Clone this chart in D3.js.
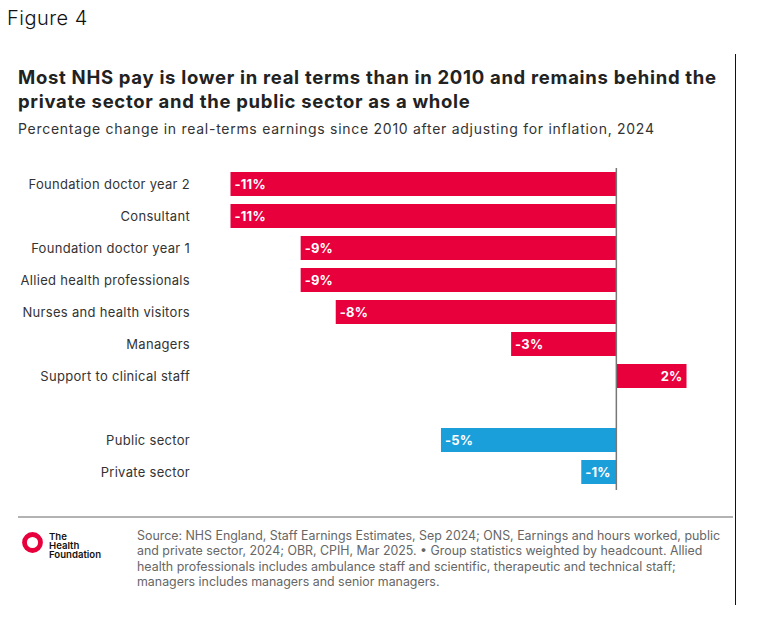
<!DOCTYPE html>
<html>
<head>
<meta charset="utf-8">
<script src="https://cdn.jsdelivr.net/npm/d3@7"></script>
<style>
  html, body { margin: 0; padding: 0; background: #fff; }
  svg { display: block; font-family: Inter, "Noto Sans", sans-serif; }
</style>
</head>
<body>
<svg id="chart" width="765" height="621"></svg>
<script>
const categories = [
  "Foundation doctor year 2",
  "Consultant",
  "Foundation doctor year 1",
  "Allied health professionals",
  "Nurses and health visitors",
  "Managers",
  "Support to clinical staff",
  "",
  "Public sector",
  "Private sector"
];
const values = [-11, -11, -9, -9, -8, -3, 2, null, -5, -1];
const groups = ["nhs", "nhs", "nhs", "nhs", "nhs", "nhs", "nhs", null, "economy", "economy"];
const valueLabels = ["-11%", "-11%", "-9%", "-9%", "-8%", "-3%", "2%", "", "-5%", "-1%"];
const xDomain = [-11, 2];

const colors = { nhs: "#E8003D", economy: "#1B9FDB" };

const svg = d3.select("#chart");

// Header
svg.append("text").attr("x", 7).attr("y", 25)
  .style("font-size", "20px").style("font-weight", 300).style("letter-spacing", "0.5px").style("fill", "#111")
  .text("Figure 4");

// Right vertical rule
svg.append("line").attr("x1", 735.5).attr("x2", 735.5).attr("y1", 54).attr("y2", 605)
  .attr("stroke", "#111").attr("stroke-width", 1);

const title = svg.append("text").style("font-size", "18.5px").style("font-weight", 700)
  .style("letter-spacing", "0.7px").style("fill", "#222");
title.append("tspan").attr("x", 18).attr("y", 84).text("Most NHS pay is lower in real terms than in 2010 and remains behind the");
title.append("tspan").attr("x", 18).attr("y", 108).text("private sector and the public sector as a whole");

svg.append("text").attr("x", 18).attr("y", 134)
  .style("font-size", "14px").style("letter-spacing", "0.72px").style("fill", "#333")
  .text("Percentage change in real-terms earnings since 2010 after adjusting for inflation, 2024");

// Chart
const x = d3.scaleLinear().domain(xDomain).range([230.5, 686.5]);
const y = d3.scaleBand().domain(d3.range(categories.length)).range([168, 488]).paddingInner(0.25).paddingOuter(0.125);

const rows = categories.map((c, i) => ({ c, v: values[i], g: groups[i], l: valueLabels[i], i }));
const data = rows.filter(d => d.v !== null);

svg.append("g").selectAll("rect").data(data).join("rect")
  .attr("x", d => x(Math.min(0, d.v)))
  .attr("width", d => Math.abs(x(d.v) - x(0)))
  .attr("y", d => y(d.i))
  .attr("height", y.bandwidth())
  .attr("fill", d => colors[d.g]);

svg.append("g").selectAll("text").data(data).join("text")
  .attr("x", d => d.v < 0 ? x(d.v) + 4 : x(d.v) - 4)
  .attr("y", d => y(d.i) + y.bandwidth() / 2)
  .attr("dy", "0.36em")
  .attr("text-anchor", d => d.v < 0 ? "start" : "end")
  .style("font-size", "13px").style("font-weight", 700).style("letter-spacing", "0.2px").style("fill", "#fff")
  .text(d => d.l);

// Category axis labels
svg.append("g").selectAll("text").data(rows.filter(d => d.c)).join("text")
  .attr("x", 190)
  .attr("y", d => y(d.i) + y.bandwidth() / 2)
  .attr("dy", "0.36em")
  .attr("text-anchor", "end")
  .style("font-size", "13px").style("letter-spacing", "0.3px").style("fill", "#333")
  .text(d => d.c);

// Zero line
svg.append("line").attr("x1", x(0)).attr("x2", x(0)).attr("y1", 168).attr("y2", 490)
  .attr("stroke", "#777").attr("stroke-width", 1.5);

// Footer separator
svg.append("line").attr("x1", 18).attr("x2", 733).attr("y1", 517).attr("y2", 517)
  .attr("stroke", "#666").attr("stroke-width", 1);

// Logo
svg.append("circle").attr("cx", 32.5).attr("cy", 542.5).attr("r", 8)
  .attr("fill", "none").attr("stroke", "#E8003D").attr("stroke-width", 4.8);
const logo = svg.append("text").style("font-size", "9.6px").style("font-weight", 600).style("fill", "#111");
logo.append("tspan").attr("x", 49).attr("y", 539.5).text("The");
logo.append("tspan").attr("x", 49).attr("y", 548.5).text("Health");
logo.append("tspan").attr("x", 49).attr("y", 557.5).text("Foundation");

const src = [
  "Source: NHS England, Staff Earnings Estimates, Sep 2024; ONS, Earnings and hours worked, public",
  "and private sector, 2024; OBR, CPIH, Mar 2025. \u2022 Group statistics weighted by headcount. Allied",
  "health professionals includes ambulance staff and scientific, therapeutic and technical staff;",
  "managers includes managers and senior managers."
];
svg.append("g").selectAll("text").data(src).join("text")
  .attr("x", 137).attr("y", (d, i) => 540 + i * 15.3)
  .style("font-size", "12.4px").style("fill", "#666")
  .text(d => d);
</script>
</body>
</html>
